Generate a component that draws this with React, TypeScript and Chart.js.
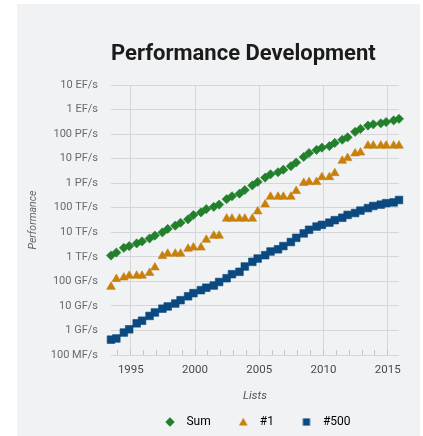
import React, { useEffect, useRef } from 'react';
import { Chart, registerables } from 'chart.js';

Chart.register(...registerables);

// TOP500 lists (June / November)
const lists = [
  '1993-06', '1993-11', '1994-06', '1994-11', '1995-06', '1995-11', '1996-06', '1996-11',
  '1997-06', '1997-11', '1998-06', '1998-11', '1999-06', '1999-11', '2000-06', '2000-11',
  '2001-06', '2001-11', '2002-06', '2002-11', '2003-06', '2003-11', '2004-06', '2004-11',
  '2005-06', '2005-11', '2006-06', '2006-11', '2007-06', '2007-11', '2008-06', '2008-11',
  '2009-06', '2009-11', '2010-06', '2010-11', '2011-06', '2011-11', '2012-06', '2012-11',
  '2013-06', '2013-11', '2014-06', '2014-11', '2015-06', '2015-11',
];

// Performance in GFlop/s
const sumGF = [
  1128.6, 1493, 2317, 2732, 3516, 4240, 5564, 7330,
  9874, 13680, 18500, 24400, 33800, 50600, 64300, 88100,
  108600, 134000, 222200, 293200, 374600, 528300, 813100, 1127000,
  1690000, 2300000, 2791000, 3537000, 4921000, 6970000, 11700000, 16950000,
  22600000, 27950000, 32430000, 43670000, 58880000, 74150000, 123400000, 162100000,
  223000000, 250000000, 274000000, 309000000, 361000000, 420000000,
];

const firstGF = [
  59.7, 124, 143.4, 170, 170, 170, 220.4, 368.2,
  1068, 1338, 1338, 1338, 2121, 2379, 2379, 4938,
  7226, 7226, 35860, 35860, 35860, 35860, 35860, 70720,
  136800, 280600, 280600, 280600, 280600, 478200, 1026000, 1105000,
  1105000, 1759000, 1759000, 2566000, 8162000, 10510000, 16320000, 17590000,
  33860000, 33860000, 33860000, 33860000, 33860000, 33860000,
];

const lastGF = [
  0.422, 0.472, 0.822, 1.114, 1.955, 2.489, 3.9, 5.4,
  7.7, 9.5, 12.5, 17.1, 24.7, 33.1, 43.8, 55.1,
  67.8, 94.3, 134.3, 195.8, 245.1, 403.4, 624, 850.6,
  1166, 1646, 2026, 2737, 4005, 5929, 9000, 12640,
  17090, 20050, 24670, 31120, 39090, 50940, 60830, 76500,
  96620, 117800, 133700, 153400, 164700, 206300,
];

const seriesNames = ['Sum', '#1', '#500'];
const seriesColors = ['#22802c', '#c8800c', '#0b4a80'];

const yTickValues = [0.1, 1, 10, 100, 1e3, 1e4, 1e5, 1e6, 1e7, 1e8, 1e9, 1e10];
const yTickLabels = [
  '100 MF/s', '1 GF/s', '10 GF/s', '100 GF/s', '1 TF/s', '10 TF/s',
  '100 TF/s', '1 PF/s', '10 PF/s', '100 PF/s', '1 EF/s', '10 EF/s',
];

const xTickYears = [
  1994, 1995, 1996, 1997, 1998, 1999, 2000, 2001, 2002, 2003, 2004,
  2005, 2006, 2007, 2008, 2009, 2010, 2011, 2012, 2013, 2014, 2015,
];
const xLabelYears = [1995, 2000, 2005, 2010, 2015];

const chartTitle = 'Performance Development';
const xAxisTitle = 'Lists';
const yAxisTitle = 'Performance';

const FONT = 'Roboto, "Noto Sans", sans-serif';
const GRID = '#d4d6d9';

function listToYear(l: string): number {
  const [y, m] = l.split('-').map(Number);
  return y + (m - 0.5) / 12;
}

function makeMarker(kind: string, color: string): HTMLCanvasElement {
  const c = document.createElement('canvas');
  c.width = 12;
  c.height = 12;
  const ctx = c.getContext('2d')!;
  ctx.fillStyle = color;
  ctx.beginPath();
  if (kind === 'diamond') {
    ctx.moveTo(6, 1.3);
    ctx.lineTo(10.7, 6);
    ctx.lineTo(6, 10.7);
    ctx.lineTo(1.3, 6);
  } else if (kind === 'triangle') {
    ctx.moveTo(6, 1.8);
    ctx.lineTo(10.3, 9.4);
    ctx.lineTo(1.7, 9.4);
  } else {
    ctx.rect(2.4, 2.4, 7.2, 7.2);
  }
  ctx.closePath();
  ctx.fill();
  return c;
}

export default function App() {
  const ref = useRef<HTMLCanvasElement | null>(null);

  useEffect(() => {
    if (!ref.current) return;
    const xs = lists.map(listToYear);
    const seriesValues = [sumGF, firstGF, lastGF];
    const styles = ['rectRot', 'triangle', 'rect'];
    const radii = [4.6, 5, 5.4];
    const markerKinds = ['diamond', 'triangle', 'square'];
    const markers = markerKinds.map((k, i) => makeMarker(k, seriesColors[i]));

    const datasets = seriesNames.map((name, i) => ({
      label: name,
      data: seriesValues[i].map((v, j) => ({ x: xs[j], y: v })),
      showLine: false,
      pointStyle: styles[i],
      pointRadius: radii[i],
      pointHoverRadius: radii[i],
      pointBorderWidth: 0.6,
      backgroundColor: seriesColors[i],
      borderColor: seriesColors[i],
      clip: false as any,
    }));

    const chart = new Chart(ref.current, {
      type: 'scatter',
      data: { datasets: datasets as any },
      options: {
        animation: false,
        responsive: false,
        events: [],
        layout: { padding: { left: 0, right: 21, top: 0, bottom: 0 } },
        scales: {
          x: {
            type: 'linear',
            min: xs[0],
            max: xs[xs.length - 1],
            afterBuildTicks: (s: any) => {
              s.ticks = xTickYears.map((v) => ({ value: v }));
            },
            afterFit: (s: any) => {
              s.height = 39;
            },
            ticks: {
              autoSkip: false,
              maxRotation: 0,
              padding: 13.6,
              color: '#4a4a4a',
              font: { family: FONT, size: 11.5 },
              callback: (v: any) => (xLabelYears.includes(Number(v)) ? String(v) : ''),
            },
            grid: {
              color: (c: any) => (c.tick && xLabelYears.includes(c.tick.value) ? GRID : 'rgba(0,0,0,0)'),
              lineWidth: 1,
              drawTicks: true,
              tickLength: -5,
              tickColor: '#c3c5c8',
              tickWidth: 1,
            },
            border: { display: false },
            title: {
              display: true,
              text: xAxisTitle,
              color: '#555',
              font: { family: FONT, size: 11.5, style: 'italic' },
              padding: { top: 0, bottom: -8.9 },
            },
          },
          y: {
            type: 'logarithmic',
            min: yTickValues[0],
            max: yTickValues[yTickValues.length - 1],
            afterBuildTicks: (s: any) => {
              s.ticks = yTickValues.map((v) => ({ value: v }));
            },
            afterFit: (s: any) => {
              s.width = 94;
            },
            ticks: {
              padding: 13,
              color: '#6a6a6a',
              font: { family: FONT, size: 11 },
              callback: (_v: any, i: number) => yTickLabels[i],
            },
            grid: { color: GRID, lineWidth: 1, drawTicks: false },
            border: { display: false },
            title: {
              display: true,
              text: yAxisTitle,
              color: '#666',
              font: { family: FONT, size: 10.5, style: 'italic' },
              padding: { top: 9.7, bottom: 0 },
            },
          },
        },
        plugins: {
          title: {
            display: true,
            text: chartTitle,
            align: 'start',
            fullSize: false,
            color: '#1b1b1b',
            font: { family: FONT, size: 22, weight: 'bold' },
            padding: { top: 37.3, bottom: 17.3 },
          },
          legend: {
            display: true,
            position: 'bottom',
            fullSize: false,
            labels: {
              usePointStyle: true,
              pointStyleWidth: 21,
              padding: 22,
              color: '#333',
              font: { family: FONT, size: 12 },
              generateLabels: () =>
                seriesNames.map((name, i) => ({
                  text: name,
                  fillStyle: seriesColors[i],
                  strokeStyle: seriesColors[i],
                  lineWidth: 0,
                  pointStyle: markers[i] as any,
                  datasetIndex: i,
                  hidden: false,
                })),
            },
          },
          tooltip: { enabled: false },
        },
      } as any,
    });
    return () => chart.destroy();
  }, []);

  return (
    <div
      style={{
        position: 'absolute',
        left: 17,
        top: 4,
        width: 403,
        height: 432,
        background: '#f0f2f4',
        overflow: 'hidden',
      }}
    >
      <canvas ref={ref} width={403} height={434} style={{ display: 'block' }} />
    </div>
  );
}
